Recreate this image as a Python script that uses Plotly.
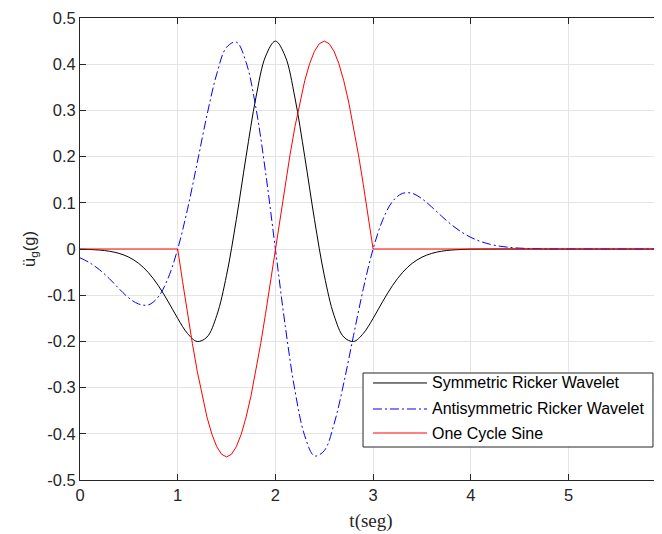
import plotly.graph_objects as go

# time grid (s)
t = [0.0, 0.1, 0.2, 0.3, 0.4, 0.5, 0.6, 0.7, 0.8, 0.9,
     1.0, 1.1, 1.2, 1.3, 1.4, 1.5, 1.6, 1.7, 1.8, 1.9,
     2.0, 2.1, 2.2, 2.3, 2.4, 2.5, 2.6, 2.7, 2.8, 2.9,
     3.0, 3.1, 3.2, 3.3, 3.4, 3.5, 3.6, 3.7, 3.8, 3.9,
     4.0, 4.1, 4.2, 4.3, 4.4, 4.5, 4.6, 4.7, 4.8, 4.9,
     5.0, 5.1, 5.2, 5.3, 5.4, 5.5, 5.6, 5.7, 5.8, 5.9, 6.0]

sym_ricker = [-0.0004, -0.0010, -0.0023, -0.0048, -0.0095, -0.0177, -0.0310, -0.0511, -0.0787, -0.1130,
              -0.1502, -0.1828, -0.2002, -0.1905, -0.1437, -0.0568, 0.0638, 0.2003, 0.3272, 0.4174,
              0.4500, 0.4174, 0.3272, 0.2003, 0.0638, -0.0568, -0.1437, -0.1905, -0.2002, -0.1828,
              -0.1502, -0.1130, -0.0787, -0.0511, -0.0310, -0.0177, -0.0095, -0.0048, -0.0023, -0.0010,
              -0.0004, -0.0002, -0.0001, 0.0, 0.0, 0.0, 0.0, 0.0, 0.0, 0.0,
              0.0, 0.0, 0.0, 0.0, 0.0, 0.0, 0.0, 0.0, 0.0, 0.0, 0.0]

antisym_ricker = [-0.0190, -0.0300, -0.0450, -0.0640, -0.0860, -0.1060, -0.1190, -0.1210, -0.1040, -0.0640,
                  0.0, 0.0860, 0.1868, 0.2900, 0.3791, 0.4366, 0.4478, 0.4041, 0.3063, 0.1652,
                  0.0, -0.1652, -0.3063, -0.4041, -0.4478, -0.4366, -0.3791, -0.2900, -0.1868, -0.0860,
                  0.0, 0.0637, 0.1032, 0.1204, 0.1204, 0.1087, 0.0909, 0.0713, 0.0529, 0.0374,
                  0.0252, 0.0163, 0.0101, 0.0060, 0.0034, 0.0019, 0.0010, 0.0005, 0.0002, 0.0001,
                  0.0, 0.0, 0.0, 0.0, 0.0, 0.0, 0.0, 0.0, 0.0, 0.0, 0.0]

t_sine = [0.0,
          1.00, 1.05, 1.10, 1.15, 1.20, 1.25, 1.30, 1.35, 1.40, 1.45,
          1.50, 1.55, 1.60, 1.65, 1.70, 1.75, 1.80, 1.85, 1.90, 1.95,
          2.00, 2.05, 2.10, 2.15, 2.20, 2.25, 2.30, 2.35, 2.40, 2.45,
          2.50, 2.55, 2.60, 2.65, 2.70, 2.75, 2.80, 2.85, 2.90, 2.95,
          3.00, 6.0]
one_cycle_sine = [0.0,
                  0.0, -0.0704, -0.1391, -0.2043, -0.2645, -0.3182, -0.3641, -0.4010, -0.4280, -0.4445,
                  -0.4500, -0.4445, -0.4280, -0.4010, -0.3641, -0.3182, -0.2645, -0.2043, -0.1391, -0.0704,
                  0.0, 0.0704, 0.1391, 0.2043, 0.2645, 0.3182, 0.3641, 0.4010, 0.4280, 0.4445,
                  0.4500, 0.4445, 0.4280, 0.4010, 0.3641, 0.3182, 0.2645, 0.2043, 0.1391, 0.0704,
                  0.0, 0.0]

series_names = ["Symmetric Ricker Wavelet", "Antisymmetric Ricker Wavelet", "One Cycle Sine"]
series_colors = ["#000000", "#0000ff", "#ff0000"]
series_dashes = ["solid", "9px,3px,2px,3px", "solid"]

x_ticks = [0, 1, 2, 3, 4, 5]
x_ticktext = ["0", "1", "2", "3", "4", "5"]
y_ticks = [-0.5, -0.4, -0.3, -0.2, -0.1, 0, 0.1, 0.2, 0.3, 0.4, 0.5]
y_ticktext = ["-0.5", "-0.4", "-0.3", "-0.2", "-0.1", "0", "0.1", "0.2", "0.3", "0.4", "0.5"]

AX = "#262626"
GRID = "#e4e4e4"
SANS = "Liberation Sans, Arial, sans-serif"

fig = go.Figure()
fig.add_trace(go.Scatter(x=t, y=sym_ricker, mode="lines", name=series_names[0],
                         line=dict(color=series_colors[0], width=1, shape="spline", dash=series_dashes[0])))
fig.add_trace(go.Scatter(x=t, y=antisym_ricker, mode="lines", name=series_names[1],
                         line=dict(color=series_colors[1], width=1, shape="spline", dash=series_dashes[1])))
fig.add_trace(go.Scatter(x=t_sine, y=one_cycle_sine, mode="lines", name=series_names[2],
                         line=dict(color=series_colors[2], width=1, shape="linear", dash=series_dashes[2])))

# the page body adds an 8px offset; the figure is sized to end at the window edge
fig.update_layout(
    width=654, height=526,
    margin=dict(l=72, r=0, t=10, b=54, autoexpand=False),
    plot_bgcolor="white", paper_bgcolor="white",
    font=dict(family=SANS, size=16, color=AX),
    showlegend=False,
)
fig.update_xaxes(range=[0, 5.957], tickvals=x_ticks, ticktext=x_ticktext, automargin=False,
                 ticks="inside", ticklen=6, tickcolor=AX, tickwidth=1,
                 showline=True, linecolor=AX, linewidth=1, mirror="ticks",
                 showgrid=True, gridcolor=GRID, gridwidth=1, zeroline=False,
                 tickfont=dict(family=SANS, size=16.5, color=AX),
                 title=dict(text="t(seg)", font=dict(family="Liberation Serif, Times New Roman, serif",
                                                     size=19, color=AX), standoff=10))
fig.update_yaxes(range=[-0.5, 0.5], tickvals=y_ticks, ticktext=y_ticktext, automargin=False,
                 ticks="inside", ticklen=6, tickcolor=AX, tickwidth=1,
                 showline=True, linecolor=AX, linewidth=1, mirror=False,
                 showgrid=True, gridcolor=GRID, gridwidth=1, zeroline=False,
                 tickfont=dict(family=SANS, size=16.5, color=AX),
                 title=dict(text="ü<sub>g</sub>(g)", font=dict(family=SANS, size=16.5, color=AX),
                            standoff=7))

# legend box (MATLAB style), built from the series styles
fig.add_shape(type="rect", xref="paper", yref="paper", x0=0.4863, x1=0.9845, y0=0.0714, y1=0.2316,
              line=dict(color=AX, width=1), fillcolor="white", layer="above")
legend_rows = [0.2100, 0.1537, 0.1017]
for name, col, dash, yr in zip(series_names, series_colors, series_dashes, legend_rows):
    fig.add_shape(type="line", xref="paper", yref="paper", x0=0.5034, x1=0.5962, y0=yr, y1=yr,
                  line=dict(color=col, width=1, dash=dash), layer="above")
    fig.add_annotation(x=0.6014, y=yr, xref="paper", yref="paper", text=name, showarrow=False,
                       xanchor="left", yanchor="middle",
                       font=dict(family=SANS, size=16, color="black"))

# partially visible "6" tick label at the clipped right edge
fig.add_annotation(x=6 / 5.957, y=0, xref="paper", yref="paper", text="6",
                   showarrow=False, xanchor="center", yanchor="top", yshift=-6, xshift=-2,
                   font=dict(family=SANS, size=16.5, color=AX))

fig.write_html("out.html")
